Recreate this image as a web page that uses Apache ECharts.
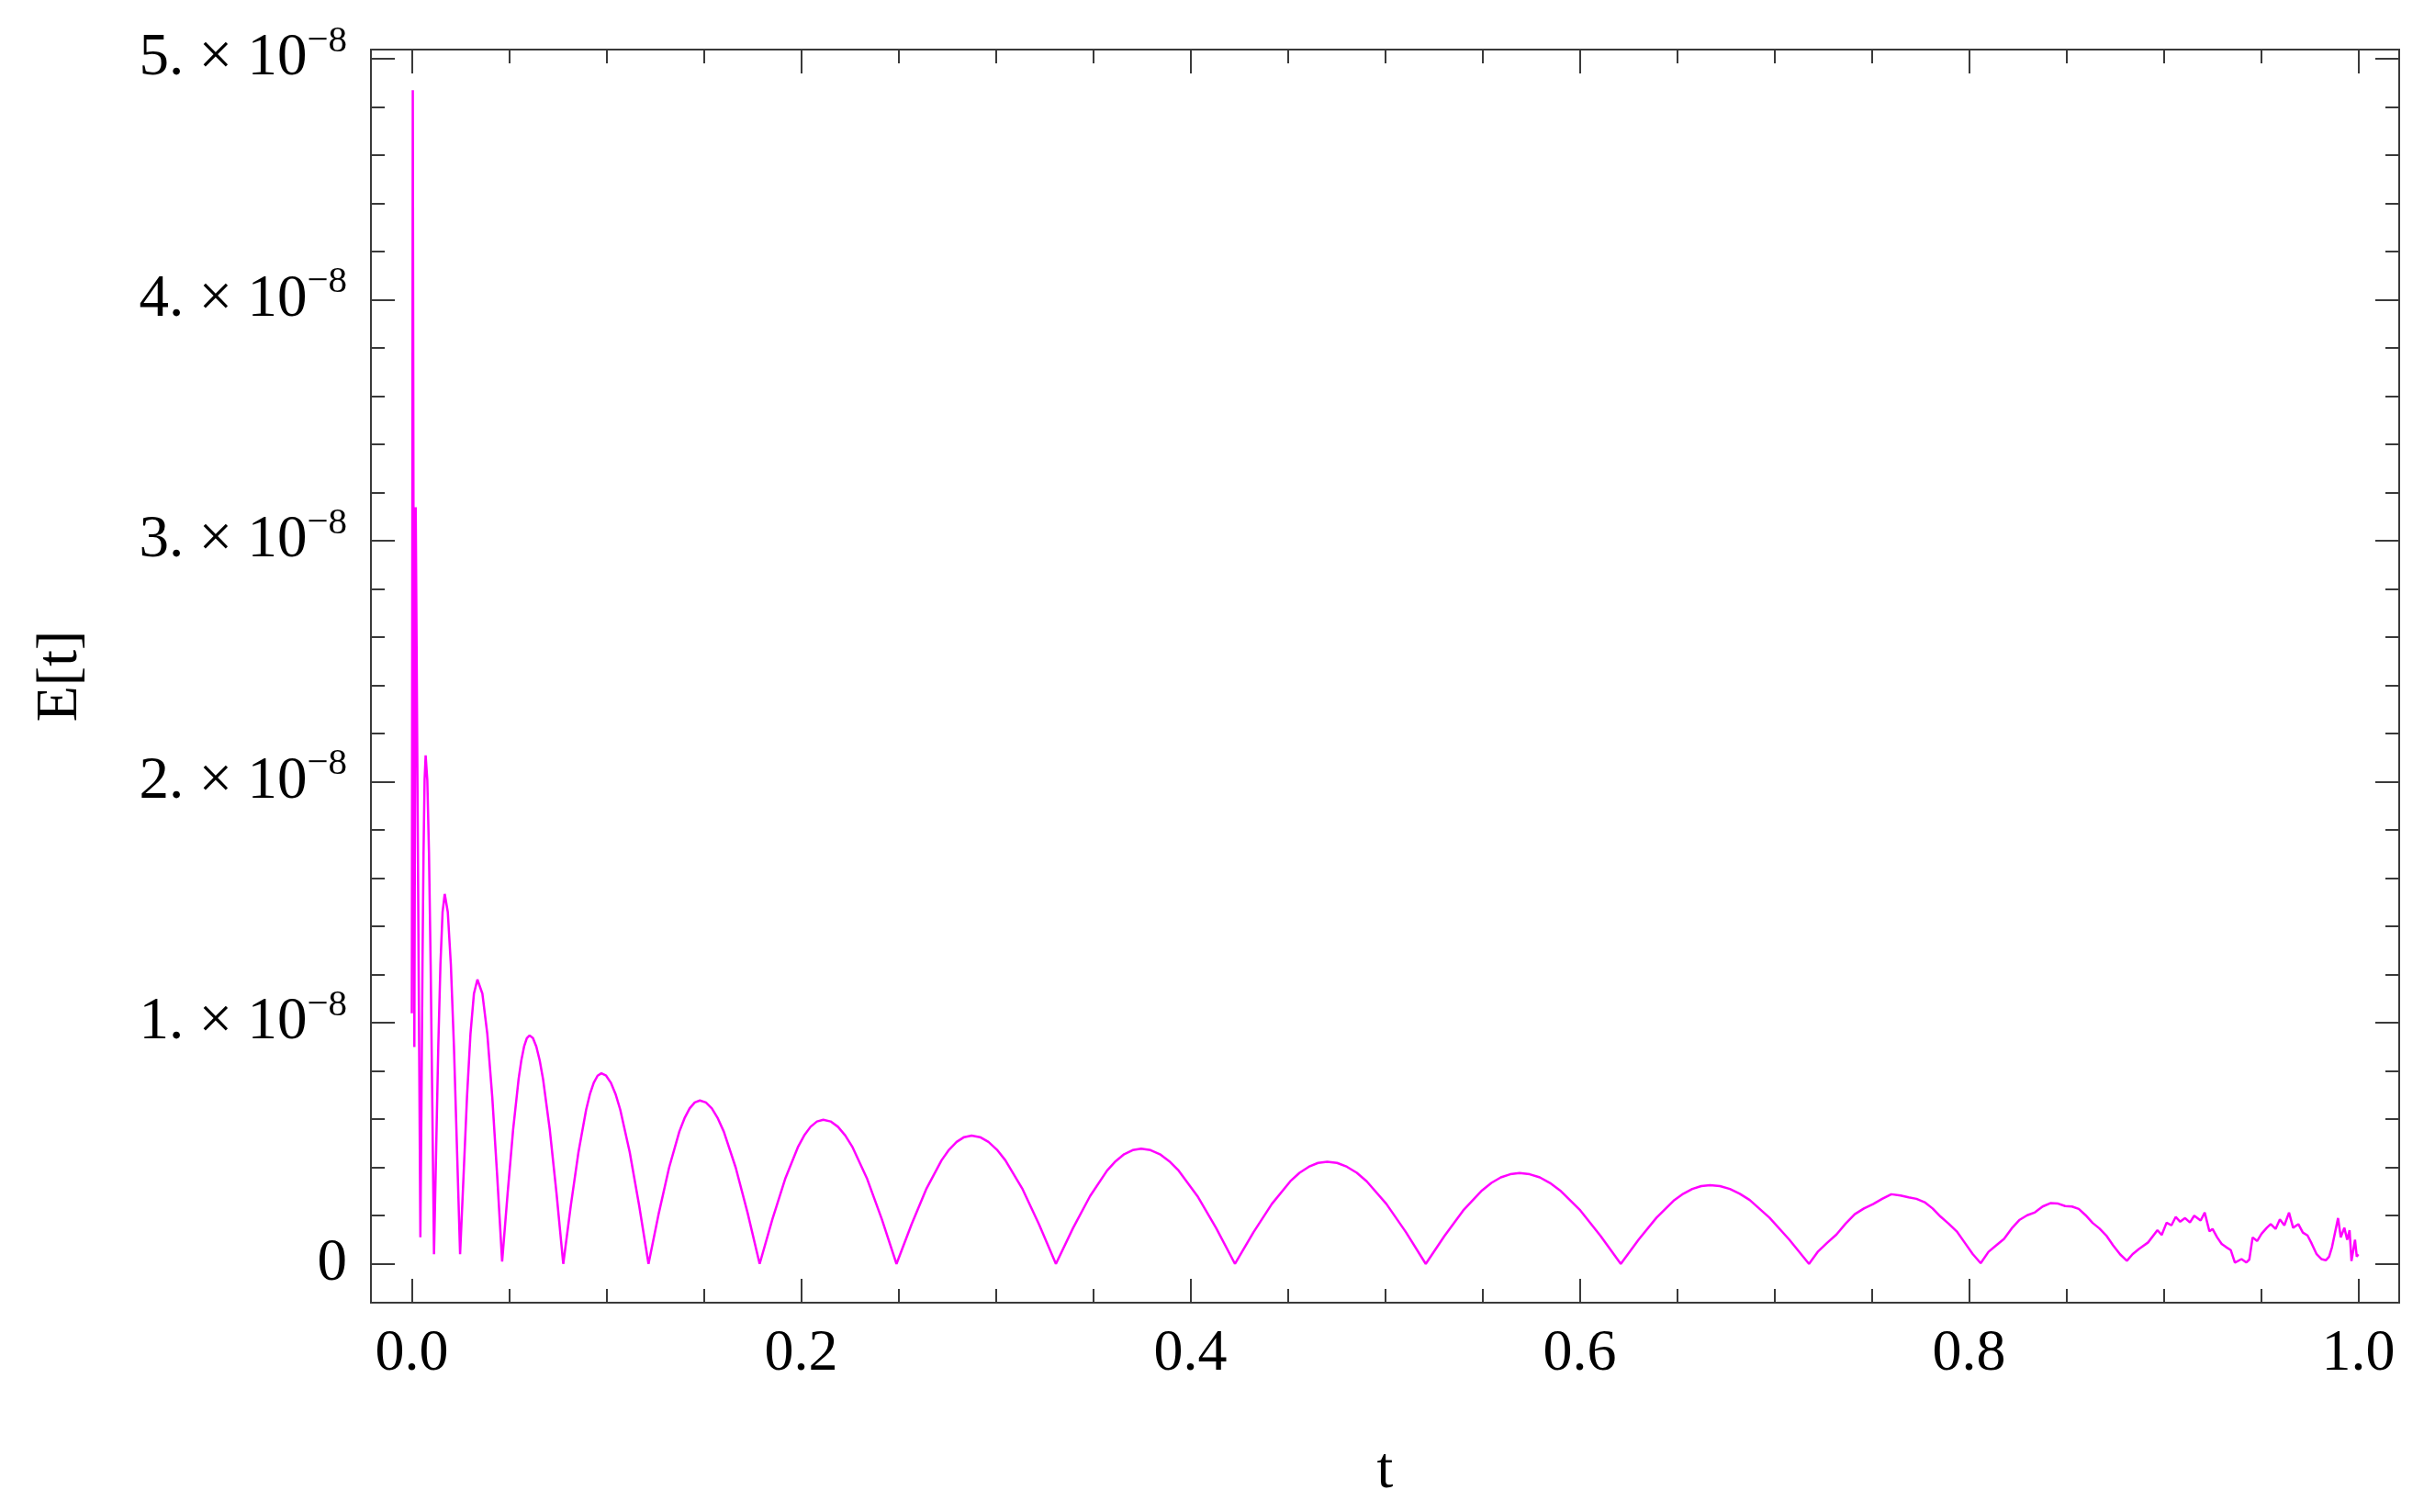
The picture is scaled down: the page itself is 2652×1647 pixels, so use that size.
<!DOCTYPE html>
<html>
<head>
<meta charset="utf-8">
<script src="https://cdn.jsdelivr.net/npm/echarts@6/dist/echarts.min.js"></script>
<style>
  html, body { margin: 0; padding: 0; background: #fff; }
  #chart { width: 2652px; height: 1647px; }
</style>
</head>
<body>
<div id="chart"></div>
<script>
// E values are in units of 1e-8

// first spikes near t = 0
const tSpikes = [0, 0.0005, 0.0013, 0.002, 0.0044,
  0.00494, 0.00548, 0.00602, 0.00656, 0.0071, 0.00796, 0.00882, 0.00968, 0.01054, 0.0114,
  0.0125, 0.0136, 0.0147, 0.0158, 0.0169, 0.01848, 0.02006, 0.02164, 0.02322, 0.0248,
  0.02658, 0.02836, 0.03014, 0.03192, 0.0337, 0.03624, 0.03878, 0.04132, 0.04386, 0.0464,
  0.04922, 0.05204, 0.05486, 0.05627, 0.05768, 0.05909, 0.0605,
  0.06223, 0.06396, 0.06569, 0.06742, 0.07088, 0.07434, 0.0778];
const eSpikes = [1.04, 4.87, 0.90, 3.14, 0.11,
  0.652, 1.241, 1.707, 2.007, 2.11, 2.007, 1.707, 1.241, 0.652, 0.04,
  0.474, 0.903, 1.242, 1.46, 1.535, 1.46, 1.242, 0.903, 0.474, 0.04,
  0.365, 0.694, 0.955, 1.122, 1.18, 1.122, 0.955, 0.694, 0.365, 0.01,
  0.293, 0.557, 0.767, 0.845, 0.902, 0.937, 0.948,
  0.937, 0.902, 0.845, 0.767, 0.557, 0.293, 0.0];

// smooth arches
const tArches = [
  0.08172, 0.08564, 0.08956, 0.09152, 0.09348, 0.09544, 0.0974,
  0.09982, 0.10224, 0.10466, 0.10708, 0.11192, 0.11676, 0.1216,
  0.12688, 0.13216, 0.13744, 0.14008, 0.14272, 0.14536, 0.148,
  0.15107, 0.15414, 0.15721, 0.16028, 0.16642, 0.17256, 0.1787,
  0.18524, 0.19178, 0.19832, 0.20159, 0.20486, 0.20813, 0.2114,
  0.21516, 0.21892, 0.22268, 0.22644, 0.23396, 0.24148, 0.249,
  0.25672, 0.26444, 0.27216, 0.27602, 0.27988, 0.28374, 0.2876,
  0.29193, 0.29626, 0.30059, 0.30492, 0.31358, 0.32224, 0.3309,
  0.33966, 0.34842, 0.35718, 0.36156, 0.36594, 0.37032, 0.3747,
  0.37952, 0.38434, 0.38916, 0.39398, 0.40362, 0.41326, 0.4229,
  0.43238, 0.44186, 0.45134, 0.45608, 0.46082, 0.46556, 0.4703,
  0.47536, 0.48042, 0.48548, 0.49054, 0.50066, 0.51078, 0.5209,
  0.53054, 0.54018, 0.54982, 0.55464, 0.55946, 0.56428, 0.5691,
  0.5743, 0.5795, 0.5847, 0.5899, 0.6003, 0.6107, 0.6211,
  0.63028, 0.63946, 0.64864, 0.65323, 0.65782, 0.66241, 0.667,
  0.67208, 0.67716, 0.68224, 0.68732, 0.69748, 0.70764, 0.7178];
const eArches = [
  0.244, 0.465, 0.640, 0.705, 0.752, 0.781, 0.791,
  0.781, 0.752, 0.705, 0.640, 0.465, 0.244, 0.0,
  0.210, 0.399, 0.549, 0.604, 0.645, 0.670, 0.678,
  0.670, 0.645, 0.604, 0.549, 0.399, 0.210, 0.0,
  0.185, 0.352, 0.484, 0.533, 0.569, 0.591, 0.598,
  0.591, 0.569, 0.533, 0.484, 0.352, 0.185, 0.0,
  0.164, 0.313, 0.430, 0.474, 0.506, 0.526, 0.532,
  0.526, 0.506, 0.474, 0.430, 0.313, 0.164, 0.0,
  0.148, 0.281, 0.387, 0.426, 0.455, 0.472, 0.478,
  0.472, 0.455, 0.426, 0.387, 0.281, 0.148, 0.0,
  0.131, 0.249, 0.343, 0.378, 0.403, 0.419, 0.424,
  0.419, 0.403, 0.378, 0.343, 0.249, 0.131, 0.0,
  0.116, 0.222, 0.305, 0.336, 0.359, 0.372, 0.377,
  0.372, 0.359, 0.336, 0.305, 0.222, 0.116, 0.0,
  0.101, 0.192, 0.265, 0.291, 0.311, 0.323, 0.327,
  0.323, 0.311, 0.291, 0.265, 0.192, 0.101, 0.0];

// noisy part towards t = 1
const tNoisy = [
  0.7225, 0.7272, 0.7319, 0.7366, 0.7413, 0.746, 0.7507, 0.7554, 0.7601, 0.7648,
  0.769, 0.773, 0.7772, 0.7813, 0.7854, 0.7895, 0.7937, 0.7978, 0.8019, 0.806,
  0.81, 0.814, 0.818, 0.8219, 0.826, 0.8299, 0.8339, 0.8378, 0.8418, 0.8458,
  0.8494, 0.8529, 0.8564, 0.8599, 0.8635, 0.867, 0.8705, 0.874, 0.8776, 0.8811,
  0.884, 0.8873, 0.892, 0.8968, 0.899,
  0.9015, 0.904, 0.9062, 0.9085, 0.911, 0.9135, 0.9157, 0.919, 0.9211, 0.9235,
  0.9251, 0.9275, 0.9298, 0.932, 0.9345, 0.9366, 0.94, 0.9425, 0.944, 0.9457,
  0.948, 0.9503, 0.953, 0.955, 0.9575, 0.9597, 0.962, 0.9644, 0.9665, 0.9692,
  0.9715, 0.9739, 0.976, 0.9786, 0.981, 0.9833, 0.985, 0.9865, 0.9896, 0.991,
  0.9928, 0.9943, 0.9955, 0.9965, 0.9983, 0.9992, 1.0];
const eNoisy = [
  0.052, 0.088, 0.122, 0.167, 0.206, 0.23, 0.248, 0.27, 0.289, 0.284,
  0.276, 0.27, 0.256, 0.23, 0.196, 0.167, 0.135, 0.088, 0.041, 0.003,
  0.05, 0.077, 0.104, 0.147, 0.183, 0.202, 0.214, 0.238, 0.252, 0.25,
  0.24, 0.238, 0.228, 0.202, 0.17, 0.147, 0.118, 0.077, 0.04, 0.013,
  0.04, 0.062, 0.089, 0.14, 0.12,
  0.171, 0.16, 0.195, 0.175, 0.19, 0.172, 0.2, 0.18, 0.213, 0.135,
  0.145, 0.11, 0.083, 0.07, 0.057, 0.005, 0.02, 0.006, 0.018, 0.11,
  0.095, 0.125, 0.15, 0.165, 0.145, 0.185, 0.16, 0.213, 0.15, 0.165,
  0.13, 0.118, 0.085, 0.04, 0.02, 0.015, 0.03, 0.07, 0.19, 0.11,
  0.15, 0.1, 0.14, 0.012, 0.1, 0.03, 0.04];

const xMajor = [0, 0.2, 0.4, 0.6, 0.8, 1.0];
const xMinor = [0.05, 0.1, 0.15, 0.25, 0.3, 0.35, 0.45, 0.5, 0.55, 0.65, 0.7, 0.75, 0.85, 0.9, 0.95];
const yMajor = [0, 1, 2, 3, 4, 5];
const yMinor = [0.2, 0.4, 0.6, 0.8, 1.2, 1.4, 1.6, 1.8, 2.2, 2.4, 2.6, 2.8,
  3.2, 3.4, 3.6, 3.8, 4.2, 4.4, 4.6, 4.8];

const tAll = tSpikes.concat(tArches, tNoisy);
const eAll = eSpikes.concat(eArches, eNoisy);
const points = tAll.map((t, i) => [t, eAll[i]]);

const FONT = "Liberation Serif, Times New Roman, serif";
const TICK = "#3a3a3a";
const X_MIN = -0.021, X_MAX = 1.021;
const Y_MIN = -0.161, Y_MAX = 5.039;

function xAx(pos, values, len, withLabel) {
  return {
    type: "value", position: pos, min: X_MIN, max: X_MAX,
    axisLine: { show: false, onZero: false },
    splitLine: { show: false },
    axisTick: { show: true, inside: true, length: len, customValues: values,
      lineStyle: { color: TICK, width: 2 } },
    axisLabel: withLabel ? {
      show: true, customValues: values, margin: 24,
      formatter: (v) => v.toFixed(1),
      fontFamily: FONT, fontSize: 64, color: "#000"
    } : { show: false }
  };
}

function yAx(pos, values, len, withLabel) {
  return {
    type: "value", position: pos, min: Y_MIN, max: Y_MAX,
    axisLine: { show: false, onZero: false },
    splitLine: { show: false },
    axisTick: { show: true, inside: true, length: len, customValues: values,
      lineStyle: { color: TICK, width: 2 } },
    axisLabel: withLabel ? {
      show: true, customValues: values, margin: 26,
      formatter: (v) => v === 0 ? "{n|0}" : "{n|" + v + ". × 10}{s|−8}",
      rich: {
        n: { fontFamily: FONT, fontSize: 65, lineHeight: 80, color: "#000" },
        s: { fontFamily: FONT, fontSize: 41, lineHeight: 40, color: "#000", verticalAlign: "top" }
      }
    } : { show: false }
  };
}

const chart = echarts.init(document.getElementById("chart"), null, { renderer: "canvas" });

const xMain = xAx("bottom", xMajor, 26, true);
xMain.name = "t";
xMain.nameLocation = "middle";
xMain.nameGap = 152;
xMain.nameTextStyle = { fontFamily: FONT, fontSize: 64, color: "#000" };

const yMain = yAx("left", yMajor, 26, true);
yMain.name = "E[t]";
yMain.nameLocation = "middle";
yMain.nameGap = 306;
yMain.nameTextStyle = { fontFamily: FONT, fontSize: 64, color: "#000" };

chart.setOption({
  animation: false,
  backgroundColor: "#fff",
  grid: {
    left: 404, right: 39, top: 54, bottom: 228,
    show: true, borderColor: TICK, borderWidth: 2, backgroundColor: "transparent"
  },
  xAxis: [
    xMain,
    xAx("bottom", xMinor, 15, false),
    xAx("top", xMajor, 26, false),
    xAx("top", xMinor, 15, false)
  ],
  yAxis: [
    yMain,
    yAx("left", yMinor, 15, false),
    yAx("right", yMajor, 26, false),
    yAx("right", yMinor, 15, false)
  ],
  series: [
    {
      type: "line",
      data: points,
      showSymbol: false,
      smooth: false,
      clip: true,
      lineStyle: { color: "#ff00ff", width: 2.5 }
    }
  ]
});
</script>
</body>
</html>
